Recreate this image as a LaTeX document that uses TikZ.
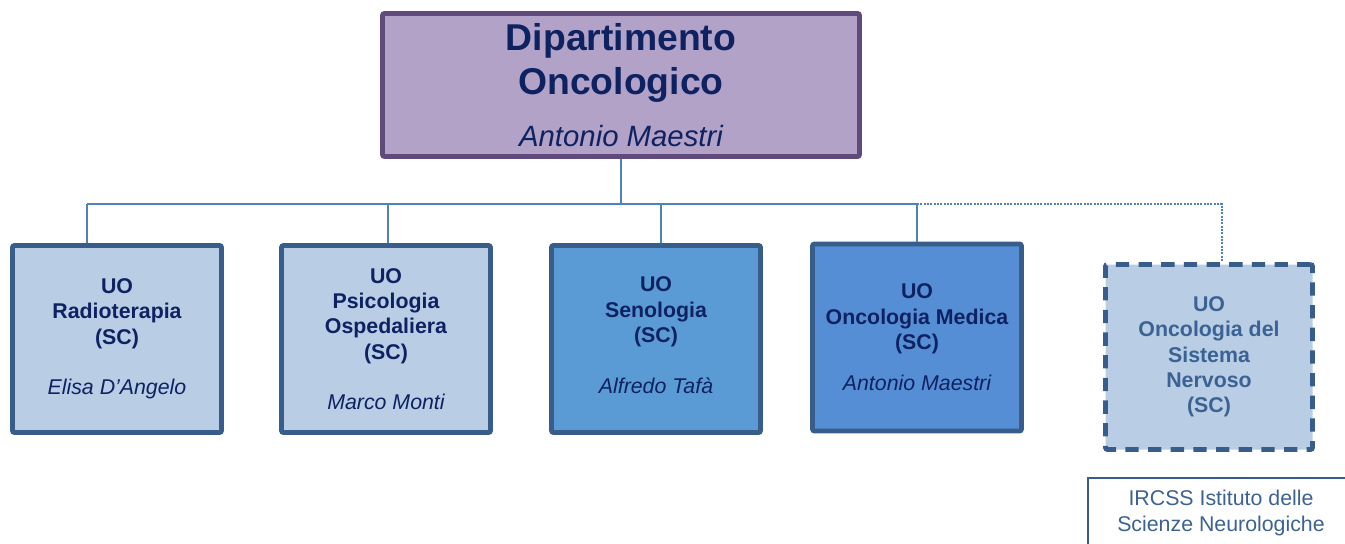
\documentclass[tikz,border=0pt]{standalone}
\usepackage{fontspec}
\setmainfont{Liberation Sans}
\usepackage{xcolor}
\usepackage{tikz}
\usetikzlibrary{positioning}

\definecolor{navy}{HTML}{0E2262}
\definecolor{depfill}{HTML}{B3A2C7}
\definecolor{depline}{HTML}{604A7B}
\definecolor{palefill}{HTML}{B9CDE5}
\definecolor{midfill}{HTML}{5B9BD5}
\definecolor{deepfill}{HTML}{558ED5}
\definecolor{boxline}{HTML}{385D8A}
\definecolor{linkblue}{HTML}{4F81BD}
\definecolor{greytext}{HTML}{3B6293}

\begin{document}
\begin{tikzpicture}[
    x=0.75pt, y=-0.75pt,
    unit/.style={rectangle, draw=boxline, line width=3.6pt, rounded corners=1.5pt,
        minimum width=156.75pt, minimum height=140.25pt, inner sep=0pt,
        align=center, text=navy, font=\fontsize{16}{19}\selectfont\bfseries},
    head/.style={unit, draw=depline, fill=depfill, minimum width=357.75pt, minimum height=107.25pt},
    link/.style={draw=linkblue, line width=1.1pt},
    weaklink/.style={link, dash pattern=on 1.5pt off 1pt}
]
\useasboundingbox (0,0) rectangle (1345,543);

% Nodes
\node[head] (dip) at (621,85) {{\fontsize{28}{32}\selectfont Dipartimento}\\[6pt]{\fontsize{28}{32}\selectfont Oncologico}\\[16pt]{\fontsize{22}{26}\selectfont\mdseries\itshape Antonio Maestri}};

\node[unit, fill=palefill] (rad) at (117,339) {UO\\Radioterapia\\(SC)\\[19pt]{\mdseries\itshape Elisa D'Angelo}};
\node[unit, fill=palefill] (psi) at (386,339) {UO\\Psicologia\\Ospedaliera\\(SC)\\[19pt]{\mdseries\itshape Marco Monti}};
\node[unit, fill=midfill] (sen) at (656,339) {UO\\Senologia\\(SC)\\[19pt]{\mdseries\itshape Alfredo Tafà}\\[-13pt]};
\node[unit, fill=deepfill] (onc) at (917,337.5) {UO\\Oncologia Medica\\(SC)\\[12pt]{\mdseries\itshape Antonio Maestri}};
\node[unit, fill=palefill, dash pattern=on 10pt off 7pt, minimum width=155.25pt, minimum height=138.75pt, text=greytext] (sns) at (1209,357) {UO\\Oncologia del\\Sistema\\Nervoso\\(SC)};

\node[text=greytext, align=center, font=\fontsize{16}{19}\selectfont] (ircss) at (1221,513) {IRCSS Istituto delle\\Scienze Neurologiche};
\draw[draw=boxline, line width=1.5pt] (1088,560) -- (1088,478) -- (1360,478);

% Connections
\coordinate (j1) at (87,204);
\coordinate (j2) at (388,204);
\coordinate (j3) at (661,204);
\coordinate (j4) at (917,204);
\coordinate (j5) at (1222,204);

\draw[link] (dip.south) -- (dip.south |- j1);
\draw[link] (j1) -- (j4);
\draw[link] (j1) -- (j1 |- rad.north);
\draw[link] (j2) -- (j2 |- psi.north);
\draw[link] (j3) -- (j3 |- sen.north);
\draw[link] (j4) -- (onc.north);
\draw[weaklink] (j4) -- (j5) -- (j5 |- sns.north);

\end{tikzpicture}
\end{document}
